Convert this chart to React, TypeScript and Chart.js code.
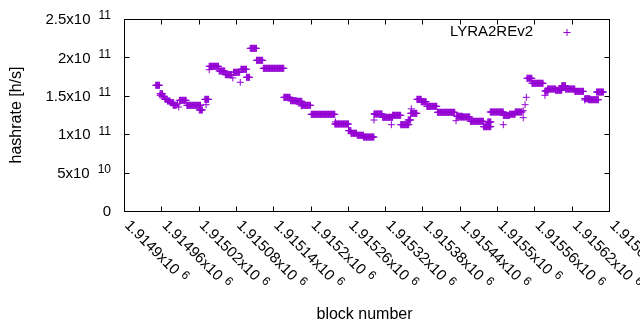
import React, { useEffect, useRef } from 'react';
import { Chart, registerables } from 'chart.js';

Chart.register(...registerables);

// ---- data ----
// runs of consecutive blocks whose hashrate estimate stays the same (values in 1e9 h/s)
const runStart = [
  1914951, 1914958, 1914961, 1914966, 1914970, 1914975, 1914979, 1914989, 1915001, 1915021,
  1915030, 1915037, 1915053, 1915063, 1915076, 1915088, 1915097, 1915103, 1915113, 1915124,
  1915157, 1915168, 1915177, 1915186, 1915201, 1915239, 1915261, 1915265, 1915275, 1915285,
  1915302, 1915316, 1915332, 1915345, 1915357, 1915361, 1915371, 1915378, 1915387, 1915404,
  1915435, 1915441, 1915457, 1915478, 1915485, 1915489, 1915510, 1915520, 1915529, 1915548,
  1915556, 1915577, 1915581, 1915594, 1915600, 1915604, 1915610, 1915625, 1915641, 1915647,
  1915660,
];
const runEnd = [
  1914957, 1914962, 1914965, 1914969, 1914974, 1914980, 1914984, 1915000, 1915023, 1915026,
  1915036, 1915052, 1915062, 1915073, 1915086, 1915097, 1915102, 1915113, 1915123, 1915157,
  1915167, 1915177, 1915186, 1915200, 1915239, 1915261, 1915265, 1915274, 1915285, 1915302,
  1915315, 1915332, 1915345, 1915358, 1915361, 1915371, 1915378, 1915386, 1915403, 1915432,
  1915444, 1915456, 1915478, 1915490, 1915490, 1915510, 1915520, 1915529, 1915540, 1915556,
  1915574, 1915582, 1915594, 1915604, 1915604, 1915610, 1915625, 1915639, 1915649, 1915663,
  1915671,
];
const runValue = [
  163.7, 152.7, 149.3, 145.4, 143.2, 141.0, 137.7, 144.1, 137.6, 131.5,
  145.4, 188.4, 182.3, 177.5, 180.6, 184.5, 174.1, 211.8, 196.2, 185.8,
  148.0, 143.6, 142.8, 137.6, 125.9, 113.3, 104.6, 101.2, 98.6, 96.3,
  126.3, 122.0, 124.6, 112.4, 118.5, 127.2, 145.4, 142.3, 136.3, 128.5,
  123.3, 122.4, 116.8, 109.8, 115.9, 128.9, 124.5, 126.0, 128.9, 172.8,
  166.3, 156.2, 158.8, 157.2, 159.2, 163.1, 158.8, 155.8, 146.2, 144.9,
  154.9,
];
// isolated points
const singleBlock = [
  1914958, 1914986, 1914988, 1915032, 1915037, 1915075, 1915087, 1915185, 1915240, 1915302,
  1915330, 1915362, 1915434, 1915510, 1915542, 1915542, 1915545, 1915547, 1915577, 1915641,
];
const singleValue = [
  150.6, 139.3, 135.4, 138.4, 184.0, 173.2, 167.6, 136.7, 116.0, 118.5,
  112.4, 133.0, 117.6, 112.4, 121.5, 130.6, 138.4, 148.0, 150.6, 144.5,
];

const xTickValues = [
  1914900, 1914960, 1915020, 1915080, 1915140, 1915200, 1915260,
  1915320, 1915380, 1915440, 1915500, 1915560, 1915620, 1915680,
];
const xTickLabels = [
  '1.9149', '1.91496', '1.91502', '1.91508', '1.91514', '1.9152', '1.91526',
  '1.91532', '1.91538', '1.91544', '1.9155', '1.91556', '1.91562', '1.91568',
];
const xTickExp = '6';
const yTickValues = [0, 5e10, 1e11, 1.5e11, 2e11, 2.5e11];
const yTickLabels = ['0', '5x10', '1x10', '1.5x10', '2x10', '2.5x10'];
const yTickExps = ['', '10', '11', '11', '11', '11'];

const seriesLabel = 'LYRA2REv2';
const xTitle = 'block number';
const yTitle = 'hashrate [h/s]';

const COLOR = '#9400d3';
const FONT = '"Liberation Sans", Arial, sans-serif';

const points: { x: number; y: number }[] = [];
runStart.forEach((s, i) => {
  for (let b = s; b <= runEnd[i]; b++) points.push({ x: b, y: runValue[i] * 1e9 });
});
singleBlock.forEach((b, i) => points.push({ x: b, y: singleValue[i] * 1e9 }));

const decor = {
  id: 'gnuplotDecor',
  afterDraw(chart: any) {
    const { ctx, chartArea: a, scales } = chart;
    const xs = scales.x;
    const ys = scales.y;
    const L = Math.round(a.left) + 0.5;
    const R = Math.round(a.right) + 0.5;
    const T = Math.round(a.top) + 0.5;
    const B = Math.round(a.bottom) + 0.5;
    ctx.save();
    ctx.strokeStyle = '#000';
    ctx.lineWidth = 1;
    ctx.strokeRect(L, T, R - L, B - T);
    const tl = 5;
    ctx.beginPath();
    xTickValues.forEach((v) => {
      const px = Math.round(xs.getPixelForValue(v)) + 0.5;
      ctx.moveTo(px, B); ctx.lineTo(px, B - tl);
      ctx.moveTo(px, T); ctx.lineTo(px, T + tl);
    });
    yTickValues.forEach((v) => {
      const py = Math.round(ys.getPixelForValue(v)) + 0.5;
      ctx.moveTo(L, py); ctx.lineTo(L + tl, py);
      ctx.moveTo(R, py); ctx.lineTo(R - tl, py);
    });
    ctx.stroke();

    ctx.fillStyle = '#000';
    const base = `15px ${FONT}`;
    const sup = `12px ${FONT}`;
    // y tick labels
    yTickValues.forEach((v, i) => {
      const py = ys.getPixelForValue(v);
      const right = a.left - 13;
      const exp = yTickExps[i];
      ctx.textBaseline = 'middle';
      if (!exp) {
        ctx.font = base; ctx.textAlign = 'right';
        ctx.fillText(yTickLabels[i], right, py + 1);
        return;
      }
      ctx.font = sup;
      const sw = ctx.measureText(exp).width;
      ctx.textAlign = 'left';
      ctx.fillText(exp, right - sw, py - 3);
      ctx.font = base; ctx.textAlign = 'right';
      ctx.fillText(yTickLabels[i], right - sw - 8, py + 1);
    });
    // x tick labels, rotated
    xTickValues.forEach((v, i) => {
      const px = xs.getPixelForValue(v);
      ctx.save();
      ctx.translate(px + 3, a.bottom + 12);
      ctx.rotate(Math.PI / 4);
      ctx.textAlign = 'left';
      ctx.textBaseline = 'middle';
      ctx.font = base;
      const txt = xTickLabels[i] + 'x10';
      ctx.fillText(txt, 0, 0);
      const w = ctx.measureText(txt).width;
      ctx.font = sup;
      ctx.fillText(xTickExp, w + 5, -4);
      ctx.restore();
    });
    // axis titles
    ctx.font = `16px ${FONT}`;
    ctx.textAlign = 'center';
    ctx.textBaseline = 'middle';
    ctx.fillText(xTitle, (a.left + a.right) / 2 - 2, 315);
    ctx.save();
    ctx.translate(17, (a.top + a.bottom) / 2);
    ctx.rotate(-Math.PI / 2);
    ctx.fillText(yTitle, 0, 0);
    ctx.restore();
    // key
    ctx.font = `15px ${FONT}`;
    ctx.textAlign = 'right';
    ctx.fillText(seriesLabel, 533, 32);
    ctx.strokeStyle = COLOR;
    ctx.beginPath();
    ctx.moveTo(563.5, 32.5); ctx.lineTo(570.5, 32.5);
    ctx.moveTo(567, 29); ctx.lineTo(567, 36);
    ctx.stroke();
    ctx.restore();
  },
};

export default function App() {
  const ref = useRef<HTMLCanvasElement | null>(null);
  useEffect(() => {
    document.body.style.margin = '0';
    const canvas = ref.current!;
    const chart = new Chart(canvas, {
      type: 'scatter',
      data: {
        datasets: [
          {
            label: seriesLabel,
            data: points,
            pointStyle: 'cross',
            pointRadius: 3.5,
            pointHoverRadius: 3.5,
            pointBorderWidth: 1,
            pointBorderColor: COLOR,
            pointBackgroundColor: COLOR,
            borderColor: COLOR,
            backgroundColor: COLOR,
          } as any,
        ],
      },
      options: {
        responsive: false,
        animation: false,
        events: [],
        layout: { padding: { left: 124, top: 19, right: 31, bottom: 119 } },
        plugins: { legend: { display: false }, tooltip: { enabled: false } },
        scales: {
          x: { type: 'linear', display: false, min: xTickValues[0], max: xTickValues[xTickValues.length - 1] },
          y: { type: 'linear', display: false, min: yTickValues[0], max: yTickValues[yTickValues.length - 1] },
        },
      },
      plugins: [decor],
    });
    return () => chart.destroy();
  }, []);
  return <canvas ref={ref} width={640} height={330} style={{ display: 'block' }} />;
}
